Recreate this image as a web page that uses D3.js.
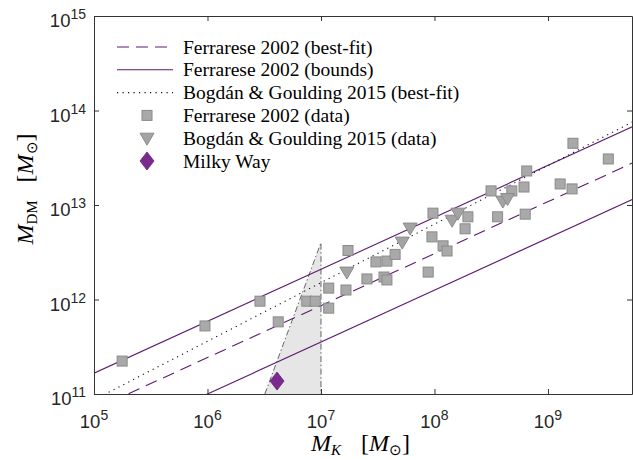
<!DOCTYPE html>
<html>
<head>
<meta charset="utf-8">
<script src="https://cdn.jsdelivr.net/npm/d3@7"></script>
<style>
  body { margin: 0; background: #fff; }
  svg { display: block; }
  .tick-label { font-family: "Liberation Sans", Arial, sans-serif; fill: #262626; }
  .serif { font-family: "Liberation Serif", "Times New Roman", serif; fill: #000; }
</style>
</head>
<body>
<div id="chart"></div>
<script>
// ---- data ----
var xTicks = [1e5, 1e6, 1e7, 1e8, 1e9]
var yTicks = [1e11, 1e12, 1e13, 1e14, 1e15]

// Ferrarese 2002 sample, [M_K, M_DM]
var ferrareseData = [
  [1.77e5, 2.23e11], [9.5e5, 5.25e11], [2.9e6, 9.6e11], [4.2e6, 5.8e11],
  [7.5e6, 9.6e11], [8.9e6, 9.6e11], [1.17e7, 8.1e11], [1.17e7, 1.32e12],
  [1.66e7, 1.26e12], [1.73e7, 3.3e12], [2.54e7, 1.65e12], [3.05e7, 2.5e12],
  [3.59e7, 1.73e12], [3.81e7, 1.61e12], [3.81e7, 2.55e12], [4.5e7, 3.0e12],
  [8.8e7, 1.95e12], [9.7e7, 8.2e12], [9.5e7, 4.6e12], [1.19e8, 3.7e12],
  [1.29e8, 3.26e12], [1.97e8, 7.5e12], [1.86e8, 5.6e12], [3.15e8, 1.41e13],
  [4.8e8, 1.41e13], [6.15e8, 1.55e13], [6.5e8, 2.29e13], [3.6e8, 7.5e12],
  [6.3e8, 8.0e12], [1.28e9, 1.67e13], [1.63e9, 1.48e13], [1.66e9, 4.5e13],
  [3.4e9, 3.07e13]
]

// Bogdan & Goulding 2015 sample
var bogdanData = [
  [1.69e7, 1.95e12], [5.2e7, 4.05e12], [6.1e7, 5.7e12], [1.43e8, 6.9e12],
  [1.61e8, 8.2e12], [4.0e8, 1.1e13], [4.4e8, 1.17e13]
]

var milkyWay = [[4.1e6, 1.37e11]]

// fitted relations, end points at M_K = 1e5 and 1e10
var ferrareseFit = [[1e5, 6.84e10], [1e10, 3.85e13]]
var ferrareseUpper = [[1e5, 1.66e11], [1e10, 9.3e13]]
var ferrareseLower = [[1e5, 2.82e10], [1e10, 1.58e13]]
var bogdanFit = [[1e5, 8.67e10], [1e10, 1.09e14]]

// excluded wedge
var wedge = [[3.2e6, 1e11], [1e7, 4e12], [1e7, 1e11]]

var legendLabels = [
  "Ferrarese 2002 (best-fit)",
  "Ferrarese 2002 (bounds)",
  "Bogdán & Goulding 2015 (best-fit)",
  "Ferrarese 2002 (data)",
  "Bogdán & Goulding 2015 (data)",
  "Milky Way"
]

// ---- layout ----
var width = 633, height = 460
var padLeft = 94, padRight = 632, padTop = 16, padBottom = 394
var purple = "#5c1a70", diamondColor = "#7a2a8c"
var axisColor = "#333"

var svg = d3.select("#chart").append("svg")
    .attr("width", width)
    .attr("height", height)

var xScale = d3.scaleLog().domain([1e5, 5.5e9]).range([padLeft, padRight])
var yScale = d3.scaleLog().domain([1e11, 1e15]).range([padBottom, padTop])

svg.append("clipPath").attr("id", "plot-clip")
  .append("rect")
    .attr("x", padLeft).attr("y", padTop)
    .attr("width", padRight - padLeft).attr("height", padBottom - padTop)

var plot = svg.append("g").attr("clip-path", "url(#plot-clip)")

var line = d3.line()
    .x(function(d) { return xScale(d[0]) })
    .y(function(d) { return yScale(d[1]) })

// shaded wedge
plot.append("path")
    .datum(wedge)
    .attr("d", line)
    .style("fill", "#e6e6e6")
    .style("stroke", "none")
plot.append("path")
    .datum(wedge)
    .attr("d", line)
    .style("fill", "none")
    .style("stroke", "#555")
    .style("stroke-width", 0.9)
    .style("stroke-dasharray", "6,2.5,1.5,2.5")

// fit lines
var lineStyles = [
  { data: ferrareseFit, dash: "12,7", color: purple },
  { data: ferrareseUpper, dash: null, color: purple },
  { data: ferrareseLower, dash: null, color: purple },
  { data: bogdanFit, dash: "1.2,4.3", color: "#111" }
]
lineStyles.forEach(function(s) {
  plot.append("path")
      .datum(s.data)
      .attr("d", line)
      .style("fill", "none")
      .style("stroke", s.color)
      .style("stroke-width", 1.1)
      .style("stroke-dasharray", s.dash)
})

// markers
var triangle = "M-7,-5 L7,-5 L0,7 Z"
var diamond = "M0,-9 L7,0 L0,9 L-7,0 Z"

plot.selectAll(".sq")
    .data(ferrareseData)
    .enter()
    .append("rect")
    .attr("class", "sq")
    .attr("x", function(d) { return xScale(d[0]) - 5 })
    .attr("y", function(d) { return yScale(d[1]) - 5 })
    .attr("width", 10)
    .attr("height", 10)
    .style("fill", "#a9a9a9")
    .style("stroke", "#8a8a8a")
    .style("stroke-width", 1)

plot.selectAll(".tri")
    .data(bogdanData)
    .enter()
    .append("path")
    .attr("class", "tri")
    .attr("d", triangle)
    .attr("transform", function(d) { return "translate(" + xScale(d[0]) + "," + yScale(d[1]) + ")" })
    .style("fill", "#a3a3a3")
    .style("stroke", "#8c8c8c")
    .style("stroke-width", 1)

plot.selectAll(".mw")
    .data(milkyWay)
    .enter()
    .append("path")
    .attr("class", "mw")
    .attr("d", diamond)
    .attr("transform", function(d) { return "translate(" + xScale(d[0]) + "," + yScale(d[1]) + ")" })
    .style("fill", diamondColor)
    .style("stroke", "#6a1f7c")
    .style("stroke-width", 0.8)

// ---- axes box with inward ticks ----
var tickLen = 5
function styleAxis(g) {
  g.select(".domain").style("stroke", axisColor)
  g.selectAll(".tick line").style("stroke", axisColor)
  g.selectAll(".tick text").remove()
}
svg.append("g")
    .attr("transform", "translate(0," + padBottom + ")")
    .call(d3.axisTop(xScale).tickValues(xTicks).tickSize(tickLen).tickSizeOuter(0))
    .call(styleAxis)
svg.append("g")
    .attr("transform", "translate(0," + padTop + ")")
    .call(d3.axisBottom(xScale).tickValues(xTicks).tickSize(tickLen).tickSizeOuter(0))
    .call(styleAxis)
svg.append("g")
    .attr("transform", "translate(" + padLeft + ",0)")
    .call(d3.axisRight(yScale).tickValues(yTicks).tickSize(tickLen).tickSizeOuter(0))
    .call(styleAxis)
svg.append("g")
    .attr("transform", "translate(" + padRight + ",0)")
    .call(d3.axisLeft(yScale).tickValues(yTicks).tickSize(tickLen).tickSizeOuter(0))
    .call(styleAxis)

// tick labels: 10 with superscript exponent
function powLabel(sel, anchor) {
  sel.style("text-anchor", anchor)
  sel.append("tspan").style("font-size", "18.5px").text("10")
  sel.append("tspan")
      .attr("dy", -8)
      .style("font-size", "14px")
      .text(function(d) { return Math.round(Math.log10(d)) })
}
svg.selectAll(".xlab")
    .data(xTicks)
    .enter()
    .append("text")
    .attr("class", "tick-label xlab")
    .attr("x", function(d) { return xScale(d) })
    .attr("y", padBottom + 34)
    .call(powLabel, "middle")

svg.selectAll(".ylab")
    .data(yTicks)
    .enter()
    .append("text")
    .attr("class", "tick-label ylab")
    .attr("x", padLeft - 8)
    .attr("y", function(d) { return yScale(d) + 11 })
    .call(powLabel, "end")

// axis titles
var xTitle = svg.append("text")
    .attr("class", "serif")
    .attr("x", 311)
    .attr("y", 451)
    .style("font-size", "24px")
xTitle.append("tspan").style("font-style", "italic").text("M")
xTitle.append("tspan").attr("dy", 4).style("font-size", "15px").style("font-style", "italic").text("K")
xTitle.append("tspan").attr("dy", -4).attr("dx", 20).text("[")
xTitle.append("tspan").style("font-style", "italic").text("M")
xTitle.append("tspan").attr("dy", 4).style("font-size", "15px").text("⊙")
xTitle.append("tspan").attr("dy", -4).text("]")

var yTitle = svg.append("text")
    .attr("class", "serif")
    .attr("transform", "translate(33,189) rotate(-90)")
    .style("text-anchor", "middle")
    .style("font-size", "24px")
yTitle.append("tspan").style("font-style", "italic").text("M")
yTitle.append("tspan").attr("dy", 4).style("font-size", "15px").text("DM")
yTitle.append("tspan").attr("dy", -4).attr("dx", 18).text("[")
yTitle.append("tspan").style("font-style", "italic").text("M")
yTitle.append("tspan").attr("dy", 4).style("font-size", "15px").text("⊙")
yTitle.append("tspan").attr("dy", -4).text("]")

// ---- legend ----
var legendTop = 47, legendStep = 22.8
var legend = svg.append("g")
legendLabels.forEach(function(label, i) {
  var y = legendTop + i * legendStep
  if (i < 3) {
    var s = lineStyles[i == 2 ? 3 : i]
    legend.append("line")
        .attr("x1", 117).attr("x2", 173)
        .attr("y1", y).attr("y2", y)
        .style("stroke", s.color)
        .style("stroke-width", 1.1)
        .style("stroke-dasharray", s.dash)
  } else if (i == 3) {
    legend.append("rect")
        .attr("x", 147 - 5).attr("y", y - 5)
        .attr("width", 10).attr("height", 10)
        .style("fill", "#a9a9a9").style("stroke", "#8a8a8a")
  } else if (i == 4) {
    legend.append("path")
        .attr("d", triangle)
        .attr("transform", "translate(147," + y + ")")
        .style("fill", "#a3a3a3").style("stroke", "#8c8c8c")
  } else {
    legend.append("path")
        .attr("d", diamond)
        .attr("transform", "translate(147," + y + ")")
        .style("fill", diamondColor).style("stroke", "#6a1f7c").style("stroke-width", 0.8)
  }
  legend.append("text")
      .attr("class", "serif")
      .attr("x", 183)
      .attr("y", y + 6.5)
      .style("font-size", "19.5px")
      .text(label)
})
</script>
</body>
</html>
